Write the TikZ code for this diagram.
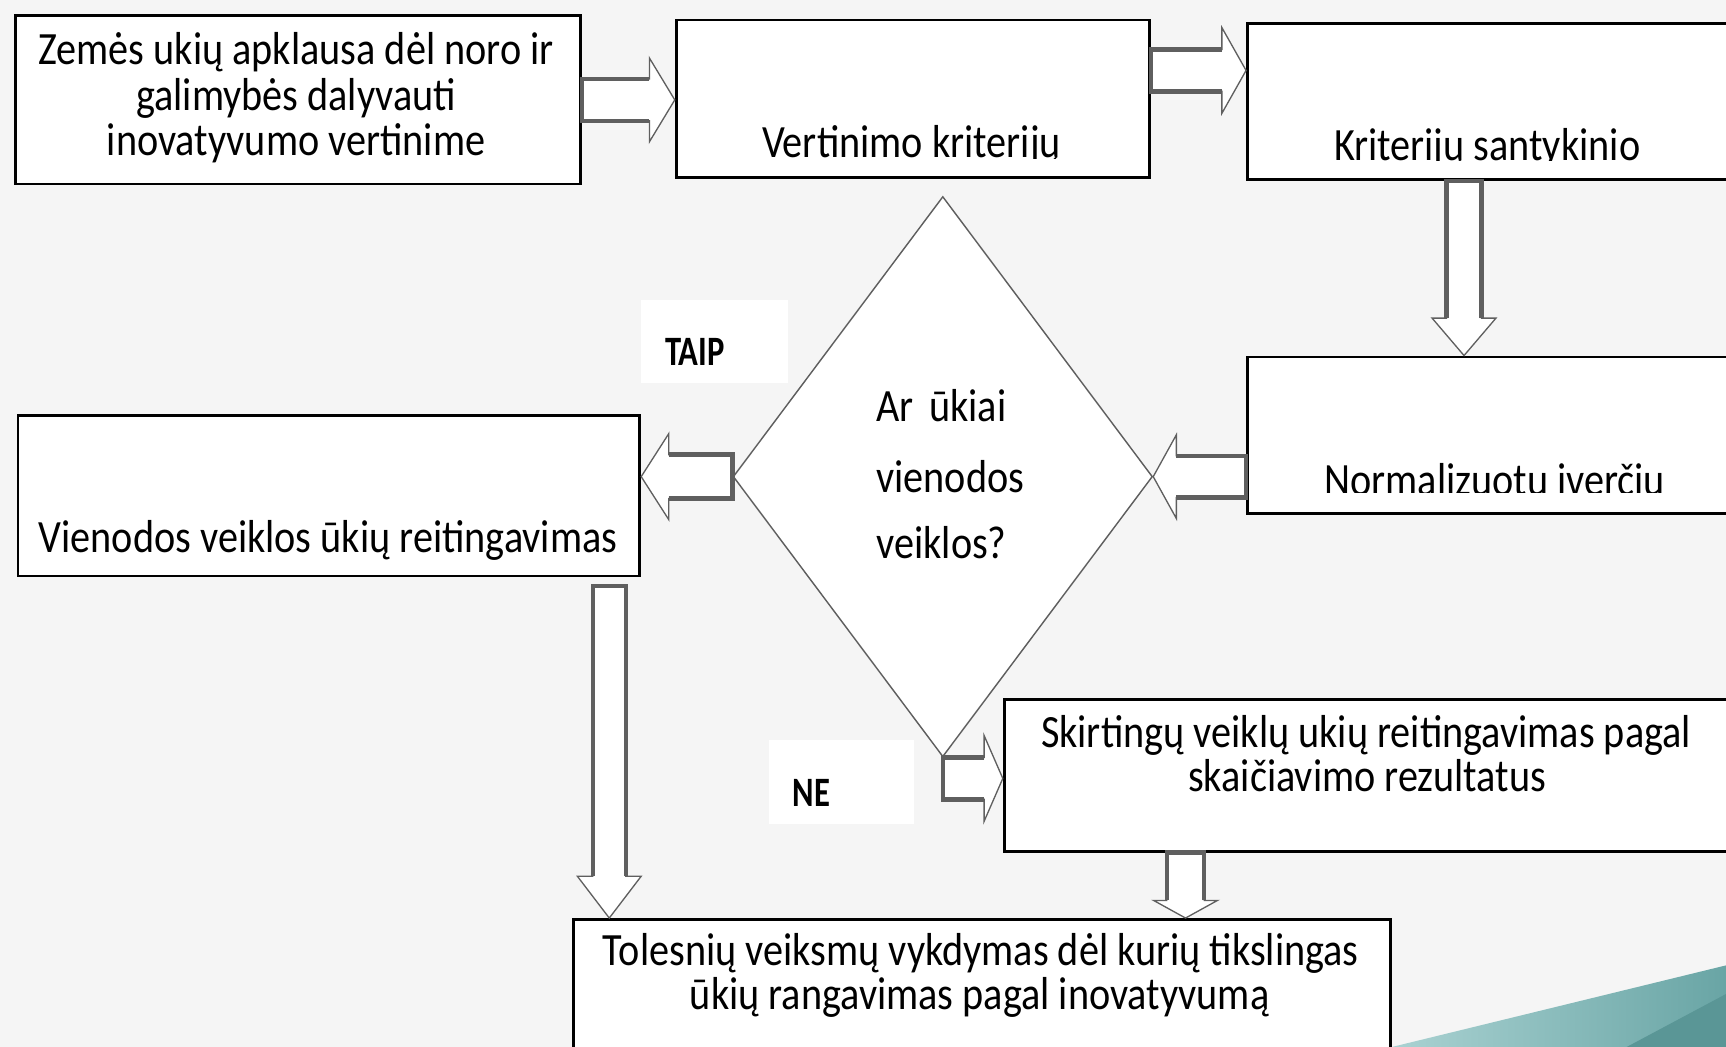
\documentclass[tikz,border=0pt]{standalone}
\usepackage{fontspec}
\setmainfont{Carlito}
\newfontfamily\bodyfont[FakeStretch=0.87]{Carlito}
\newfontfamily\labelfont[FakeStretch=0.78]{Carlito}
\usetikzlibrary{calc,shapes.geometric}
\definecolor{bg}{RGB}{245,245,245}
\definecolor{tealA}{RGB}{170,210,210}
\definecolor{tealB}{RGB}{105,165,165}
\definecolor{tealC}{RGB}{90,150,150}
\definecolor{arrowedge}{RGB}{95,95,95}
\definecolor{diaedge}{RGB}{95,95,95}
\newcommand\blockarrow[5]{%
  \coordinate (ba-h) at ($(#2)!#5!(#1)$);
  \filldraw[barrowfill] ($(#1)!#3!90:(#2)$) -- ($(ba-h)!#3!90:(#2)$) -- ($(ba-h)!#4!90:(#2)$) -- (#2)
    -- ($(ba-h)!#4!-90:(#2)$) -- ($(ba-h)!#3!-90:(#2)$) -- ($(#1)!#3!-90:(#2)$) -- cycle;
  \draw[barrowshaft] ($(ba-h)!#3!90:(#2)$) -- ($(#1)!#3!90:(#2)$) -- ($(#1)!#3!-90:(#2)$) -- ($(ba-h)!#3!-90:(#2)$);
}
\begin{document}
\begin{tikzpicture}[x=1pt,y=-1pt,
  box/.style={draw=black,line width=2.5pt,fill=white,inner sep=0pt,anchor=north west},
  txt/.style={inner sep=0pt,anchor=base,font=\bodyfont\fontsize{42}{42}\selectfont},
  ltxt/.style={txt,anchor=base west},
  yesno/.style={inner sep=0pt,anchor=base west,font=\labelfont\bfseries\fontsize{38}{38}\selectfont},
  labelbox/.style={fill=white,inner sep=0pt,anchor=north west},
  barrowfill/.style={fill=white,draw=arrowedge,line width=1.2pt,line join=miter},
  barrowshaft/.style={draw=arrowedge,line width=4pt,line join=miter},
  decision/.style={diamond,draw=diaedge,line width=1.3pt,fill=white,inner sep=0pt}]
\clip (0,0) rectangle (1568,951);
\fill[bg] (0,0) rectangle (1568,951);
\shade[left color=tealA,right color=tealB] (1265,951) -- (1568,877) -- (1568,951) -- cycle;
\fill[tealC] (1478,951) -- (1568,903) -- (1568,951) -- cycle;

% boxes
\node[box,minimum width=513pt,minimum height=153pt] (b1) at (13,13) {};
\node[box,minimum width=430pt,minimum height=143pt] (b2) at (613,17) {};
\node[box,minimum width=480pt,minimum height=142pt] (b3) at (1132,20) {};
\node[box,minimum width=480pt,minimum height=142pt] (b4) at (1132,323) {};
\node[box,minimum width=565pt,minimum height=146pt] (b5) at (15,376) {};
\node[box,minimum width=700pt,minimum height=138pt] (b6) at (911,634) {};
\node[box,minimum width=742pt,minimum height=150pt] (b7) at (520,834) {};
\node[decision,minimum width=381pt,minimum height=509pt] (dia) at (856.5,433) {};
\node[labelbox,minimum width=134pt,minimum height=76pt] (taipbox) at (582,272) {};
\node[labelbox,minimum width=132pt,minimum height=76pt] (nebox) at (698,672) {};

% texts
\node[txt] (t1a) at (269,59) {Zemės ukių apklausa dėl noro ir};
\node[txt] (t1b) at (269,100) {galimybės dalyvauti};
\node[txt] (t1c) at (269,141) {inovatyvumo vertinime};
\begin{scope}
  \clip (613,0) rectangle (1043,144);
  \node[txt] (t2) at (828,143) {Vertinimo kriterijų};
\end{scope}
\begin{scope}
  \clip (1132,0) rectangle (1568,146);
  \node[txt] (t3) at (1351,146) {Kriterijų santykinio};
\end{scope}
\begin{scope}
  \clip (1132,323) rectangle (1568,447);
  \node[txt] (t4) at (1358,450) {Normalizuotų įverčių};
\end{scope}
\node[txt] (t5) at (298,502) {Vienodos veiklos ūkių reitingavimas};
\node[txt] (t6a) at (1241,679) {Skirtingų veiklų ukių reitingavimas pagal};
\node[txt] (t6b) at (1242,719) {skaičiavimo rezultatus};
\node[txt] (t7a) at (891,877) {Tolesnių veiksmų vykdymas dėl kurių tikslingas};
\node[txt] (t7b) at (890,917) {ūkių rangavimas pagal inovatyvumą};
\node[ltxt] (q1) at (796,383) {Ar\hspace{14pt}ūkiai};
\node[ltxt] (q2) at (796,447) {vienodos};
\node[ltxt] (q3) at (796,507) {veiklos?};
\node[yesno] (taip) at (604,332) {TAIP};
\node[yesno] (ne) at (720,733) {NE};

% connectors
\coordinate (a1s) at (b1.east);
\coordinate (a1e) at (b2.west |- b1.east);
\blockarrow{a1s}{a1e}{19pt}{38pt}{23pt}
\coordinate (a2s) at ($(b2.north east)+(0,47)$);
\coordinate (a2e) at (b3.west |- a2s);
\blockarrow{a2s}{a2e}{19pt}{39pt}{22pt}
\coordinate (a3s) at ($(b3.south west)+(198,0)$);
\coordinate (a3e) at (a3s |- b4.north);
\blockarrow{a3s}{a3e}{16pt}{29pt}{34pt}
\coordinate (a4s) at (b4.west |- dia.east);
\blockarrow{a4s}{dia.east}{19pt}{38pt}{21pt}
\coordinate (a5e) at (b5.east |- dia.west);
\blockarrow{dia.west}{a5e}{20pt}{39pt}{25pt}
\coordinate (a6s) at ($(b5.south east)+(-29,8)$);
\coordinate (a6e) at (a6s |- b7.north);
\blockarrow{a6s}{a6e}{15pt}{29pt}{38pt}
\coordinate (a7s) at ($(dia.south)+(0,19)$);
\coordinate (a7e) at (b6.west |- a7s);
\blockarrow{a7s}{a7e}{19pt}{39pt}{17pt}
\coordinate (a8s) at ($(b6.south west)+(166,0)$);
\coordinate (a8e) at (a8s |- b7.north);
\blockarrow{a8s}{a8e}{17pt}{29pt}{16pt}
\end{tikzpicture}
\end{document}
